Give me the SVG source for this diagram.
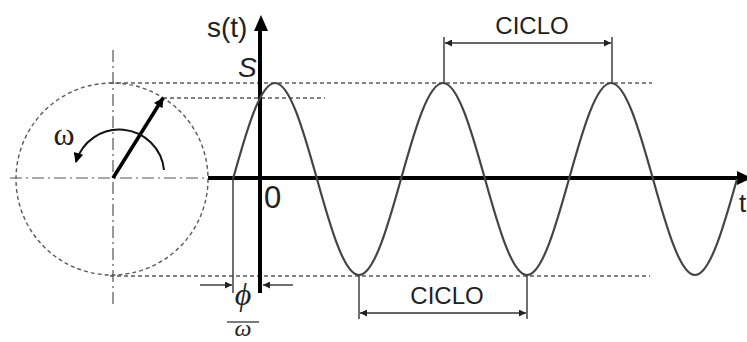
<svg xmlns="http://www.w3.org/2000/svg" width="747" height="342" viewBox="0 0 747 342">
<style>
.dash{fill:none;stroke:#5a5a5a;stroke-width:1.4;stroke-dasharray:4 3}
.dashdot{fill:none;stroke:#555;stroke-width:1.2;stroke-dasharray:12 4 2 4}
.axis{fill:none;stroke:#000;stroke-width:4}
.thin{fill:none;stroke:#333;stroke-width:1.4}
.dim{fill:none;stroke:#333;stroke-width:1.5}
.wave{fill:none;stroke:#444;stroke-width:2.2}
.sans{font-family:"Liberation Sans",Arial,sans-serif;fill:#222}
.serif{font-family:"Liberation Serif","Times New Roman",serif;fill:#222}
</style>
<defs>
<marker id="ah" viewBox="0 0 10 10" refX="10" refY="5" markerWidth="9" markerHeight="7" markerUnits="userSpaceOnUse" orient="auto">
<path d="M0,0 L10,5 L0,10 z" fill="#222"/>
</marker>
<marker id="ahs" viewBox="0 0 10 10" refX="10" refY="5" markerWidth="9" markerHeight="7" markerUnits="userSpaceOnUse" orient="auto-start-reverse">
<path d="M0,0 L10,5 L0,10 z" fill="#222"/>
</marker>
<marker id="ahb" viewBox="0 0 10 10" refX="9" refY="5" markerWidth="12" markerHeight="10" markerUnits="userSpaceOnUse" orient="auto">
<path d="M0,0 L10,5 L0,10 z" fill="#000"/>
</marker>
</defs>
<rect width="747" height="342" fill="#fff"/>

<g id="guides">
<circle class="dash" cx="112" cy="179" r="96"/>
<line class="dashdot" x1="10" y1="178" x2="208" y2="178"/>
<line class="dashdot" x1="113" y1="50" x2="113" y2="305"/>
<line class="dash" x1="110" y1="83" x2="652" y2="83"/>
<line class="dash" x1="163" y1="98" x2="325" y2="98"/>
<line class="dash" x1="110" y1="276" x2="650" y2="276"/>
</g>

<g id="phasor">
<line x1="113" y1="178" x2="163" y2="98" stroke="#000" stroke-width="3.5" marker-end="url(#ahb)"/>
<path d="M164,170 A45,45 0 0 0 76,162" fill="none" stroke="#111" stroke-width="2" marker-end="url(#ahb)"/>
<text class="serif" x="64" y="145" font-size="32" text-anchor="middle">ω</text>
</g>

<g id="axes">
<line class="axis" x1="260" y1="293" x2="260" y2="29"/>
<polygon points="261,15 254,31 268,31" fill="#000"/>
<line class="axis" x1="208" y1="178" x2="740" y2="178"/>
<polygon points="752,178 737,171 737,185" fill="#000"/>
<text class="sans" x="207" y="37" font-size="28">s(t)</text>
<text class="sans" x="238" y="77" font-size="28" font-style="italic">S</text>
<text class="sans" x="264" y="208" font-size="31">0</text>
<text class="sans" x="739" y="212" font-size="26">t</text>
</g>

<g id="wave">
<path class="wave" d="M233,179 C246.71,129.8 260.25,83 275,83 C289.75,83 303.29,129.8 317,179 C330.71,228.2 344.25,275 359,275 C373.75,275 387.29,228.2 401,179 C414.71,129.8 428.25,83 443,83 C457.75,83 471.29,129.8 485,179 C498.71,228.2 512.25,275 527,275 C541.75,275 555.29,228.2 569,179 C582.71,129.8 596.25,83 611,83 C625.75,83 639.29,129.8 653,179 C666.71,228.2 680.25,275 695,275 C709.75,275 723.29,228.2 737,179"/>
</g>

<g id="connectors">
<line class="thin" x1="233" y1="178" x2="233" y2="293"/>
<line class="thin" x1="200" y1="285" x2="232" y2="285" marker-end="url(#ah)"/>
<line class="thin" x1="293" y1="285" x2="263" y2="285" marker-end="url(#ah)"/>
<line class="thin" x1="444" y1="37" x2="444" y2="83"/>
<line class="thin" x1="612" y1="37" x2="612" y2="83"/>
<line class="dim" x1="445" y1="43" x2="611" y2="43" marker-start="url(#ahs)" marker-end="url(#ah)"/>
<line class="thin" x1="359" y1="276" x2="359" y2="319"/>
<line class="thin" x1="527" y1="276" x2="527" y2="319"/>
<line class="dim" x1="360" y1="313" x2="526" y2="313" marker-start="url(#ahs)" marker-end="url(#ah)"/>
</g>

<g id="labels">
<text class="sans" x="532" y="34" font-size="24" text-anchor="middle">CICLO</text>
<text class="sans" x="447" y="304" font-size="24" text-anchor="middle">CICLO</text>
<text class="serif" x="243" y="305" font-size="32" font-style="italic" text-anchor="middle">ϕ</text>
<line x1="227" y1="322" x2="259" y2="322" stroke="#333" stroke-width="1.3"/>
<text class="serif" x="243" y="336" font-size="24" font-style="italic" text-anchor="middle">ω</text>
</g>
</svg>
